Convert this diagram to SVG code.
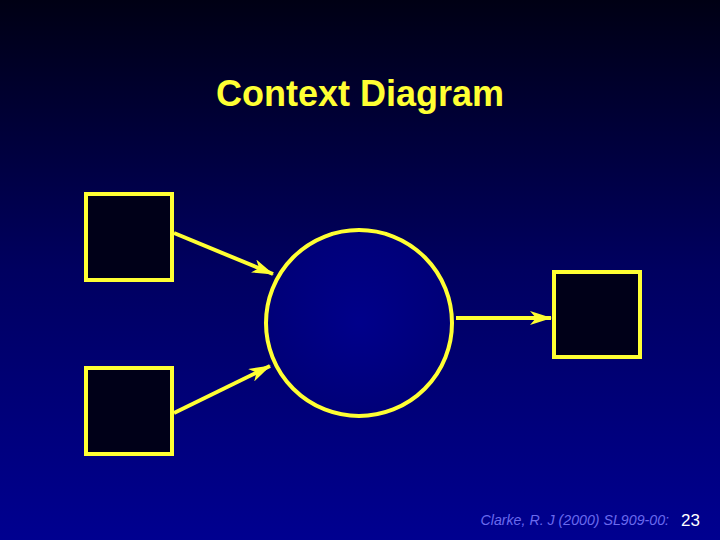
<svg xmlns="http://www.w3.org/2000/svg" width="720" height="540" viewBox="0 0 720 540">
<defs>
<linearGradient id="bg" x1="0" y1="0" x2="0" y2="1">
<stop offset="0" stop-color="#000014"/>
<stop offset="0.5" stop-color="#000060"/>
<stop offset="1" stop-color="#000090"/>
</linearGradient>
<radialGradient id="cg" cx="0.5" cy="0.5" r="0.5">
<stop offset="0" stop-color="#00008a"/>
<stop offset="1" stop-color="#000078"/>
</radialGradient>
<marker id="ah" viewBox="0 0 22 14" refX="21" refY="7" markerWidth="22" markerHeight="14" markerUnits="userSpaceOnUse" orient="auto">
<path d="M0,0 L22,7 L0,14 L6,7 Z" fill="#ffff33"/>
</marker>
<style>
.box{fill:#000018;stroke:#ffff33;stroke-width:4}
.line{stroke:#ffff33;stroke-width:4;fill:none;marker-end:url(#ah)}
</style>
</defs>
<rect width="720" height="540" fill="url(#bg)"/>
<text x="360" y="106" text-anchor="middle" font-family="Liberation Sans, Arial, sans-serif" font-weight="bold" font-size="36" fill="#ffff33">Context Diagram</text>
<g id="connectors">
<line class="line" x1="174" y1="233" x2="273" y2="274"/>
<line class="line" x1="174" y1="413" x2="270" y2="366"/>
<line class="line" x1="456" y1="318" x2="551" y2="318"/>
</g>
<g id="source1"><rect class="box" x="86" y="194" width="86" height="86"/></g>
<g id="source2"><rect class="box" x="86" y="368" width="86" height="86"/></g>
<g id="process"><circle cx="359" cy="323" r="93" fill="url(#cg)" stroke="#ffff33" stroke-width="4"/></g>
<g id="sink"><rect class="box" x="554" y="272" width="86" height="85"/></g>
<text x="669" y="525" text-anchor="end" font-family="Liberation Sans, Arial, sans-serif" font-style="italic" font-size="14.2" fill="#6a6aee">Clarke, R. J (2000) SL909-00:</text>
<text x="681" y="526" font-family="Liberation Sans, Arial, sans-serif" font-size="17" fill="#ffffff">23</text>
</svg>
